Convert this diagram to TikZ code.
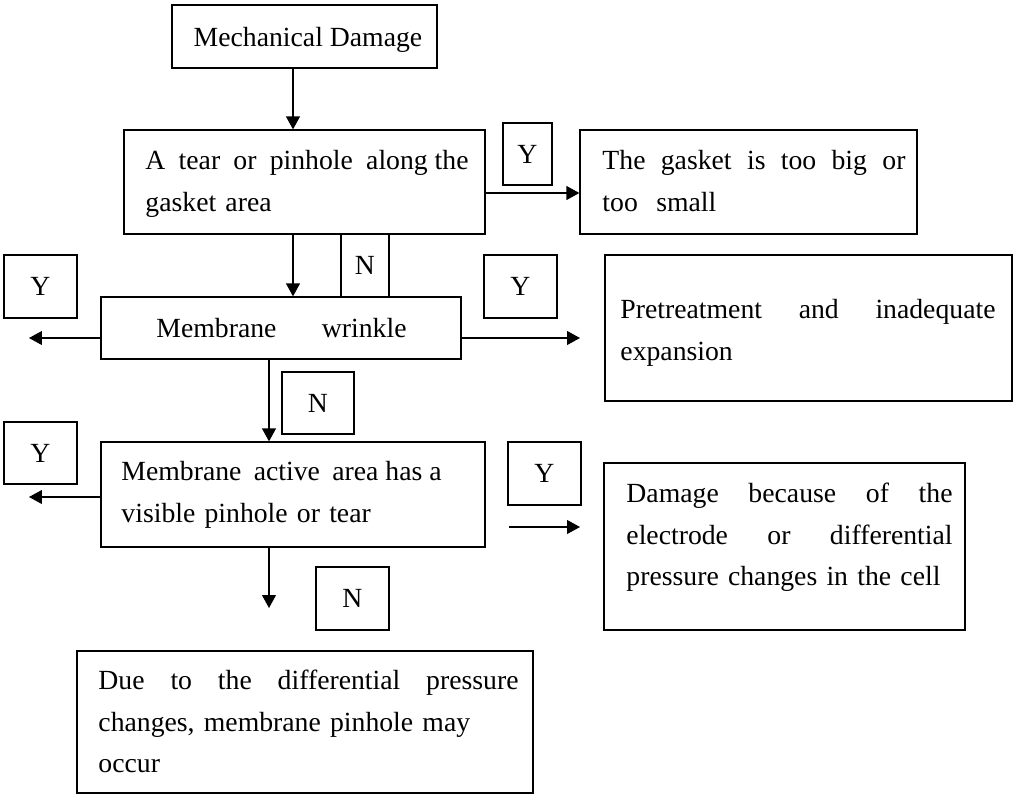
\documentclass[tikz,border=0pt]{standalone}
\usepackage{fontspec}
\setmainfont{Liberation Serif}
\usetikzlibrary{fit,arrows.meta}
\tolerance=10000
\newcommand\jline[2]{\makebox[#1][s]{\spaceskip=\fontdimen2\font plus 1fil\relax #2}}
\newcommand\nsp{\hspace{\fontdimen2\font}}
\begin{document}
\begin{tikzpicture}[x=0.433pt,y=-0.433pt,
  box/.style={draw,line width=0.55pt,inner sep=0pt},
  txt/.style={inner sep=0pt,align=left,anchor=north west,font=\fontsize{12}{18}\selectfont},
  lbl/.style={draw,line width=0.55pt,inner sep=0pt,font=\fontsize{12}{18}\selectfont},
  arr/.style={line width=0.55pt,-{Triangle[length=5.6pt,width=6pt]}}]
\useasboundingbox (0,0) rectangle (1013,796);
% boxes
\node[lbl,minimum width=114.7pt,minimum height=27.3pt,text depth=0pt] (md) at (304.5,36.5) {\hspace*{3pt}Mechanical Damage};
\node[box,fit={(124,130) (485,234)}] (tear) {};
\node[box,fit={(580,130) (917,234)}] (gasket) {};
\node[box,fit={(101,297) (461,359)}] (wrinkle) {};
\node[box,fit={(605,255) (1012,401)}] (pre) {};
\node[box,fit={(101,442) (485,547)}] (active) {};
\node[box,fit={(604,463) (965,630)}] (damage) {};
\node[box,fit={(77,651) (533,793)}] (bottom) {};
% Y / N labels
\node[lbl,minimum width=21.2pt,minimum height=26.8pt] (yTop) at (527.5,154) {Y};
\node[lbl,minimum width=20.8pt,minimum height=27.3pt] (nTop) at (365,265.5) {N};
\node[lbl,minimum width=31.6pt,minimum height=27.3pt] (yL1) at (40.5,286.5) {Y};
\node[lbl,minimum width=31.6pt,minimum height=27.3pt] (yR1) at (520.5,286.5) {Y};
\node[lbl,minimum width=31.2pt,minimum height=26.8pt] (nMid) at (318,403) {N};
\node[lbl,minimum width=31.6pt,minimum height=26.8pt] (yL2) at (40.5,453) {Y};
\node[lbl,minimum width=31.6pt,minimum height=27.3pt] (yR2) at (544.5,473.5) {Y};
\node[lbl,minimum width=31.6pt,minimum height=27.3pt] (nBot) at (352.5,598.5) {N};
% texts
\node[txt,text width=139.9pt] (tearT) at (145,139.9)
  {\strut\jline{139.9pt}{A tear or pinhole along\nsp the}\\gasket area};
\node[txt,text width=131.2pt] (gasketT) at (602,139.9)
  {\strut\jline{131.2pt}{The gasket is too big or}\\too\ \ small};
\node[txt,anchor=base west] (wrinkleT) at (156,337)
  {\jline{108.3pt}{Membrane wrinkle}};
\node[txt,text width=162.4pt] (preT) at (620,288.9)
  {\strut\jline{162.4pt}{Pretreatment and inadequate}\\expansion};
\node[txt,text width=138.6pt] (activeT) at (121,450.9)
  {\strut\jline{138.6pt}{Membrane active area\nsp has\nsp a}\\visible pinhole or tear};
\node[txt,text width=141.2pt] (damageT) at (626,472.9)
  {\strut\jline{141.2pt}{Damage because of the}\\\jline{141.2pt}{electrode or differential}\\pressure changes in the cell};
\node[txt,text width=181.9pt] (bottomT) at (98,659.9)
  {\strut\jline{181.9pt}{Due to the differential pressure}\\changes, membrane pinhole may\\occur};
% helper coordinates
\coordinate (colA) at (293,0);
\coordinate (colB) at (269,0);
\coordinate (rowA) at (0,193);
\coordinate (wl) at (29,338);
\coordinate (wr) at (580,338);
\coordinate (al) at (29,497);
\coordinate (fa1) at (509,527);
\coordinate (fa2) at (580,527);
\coordinate (ad) at (269,608);
% connectors
\draw[arr] (md.south -| colA) -- (tear.north -| colA);
\draw[arr] (tear.east |- rowA) -- (gasket.west |- rowA);
\draw[arr] (tear.south -| colA) -- (wrinkle.north -| colA);
\draw[arr] (wrinkle.west |- wl) -- (wl);
\draw[arr] (wrinkle.east |- wr) -- (wr);
\draw[arr] (wrinkle.south -| colB) -- (active.north -| colB);
\draw[arr] (active.west |- al) -- (al);
\draw[arr] (fa1) -- (fa2);
\draw[arr] (active.south -| colB) -- (ad);
\end{tikzpicture}
\end{document}
